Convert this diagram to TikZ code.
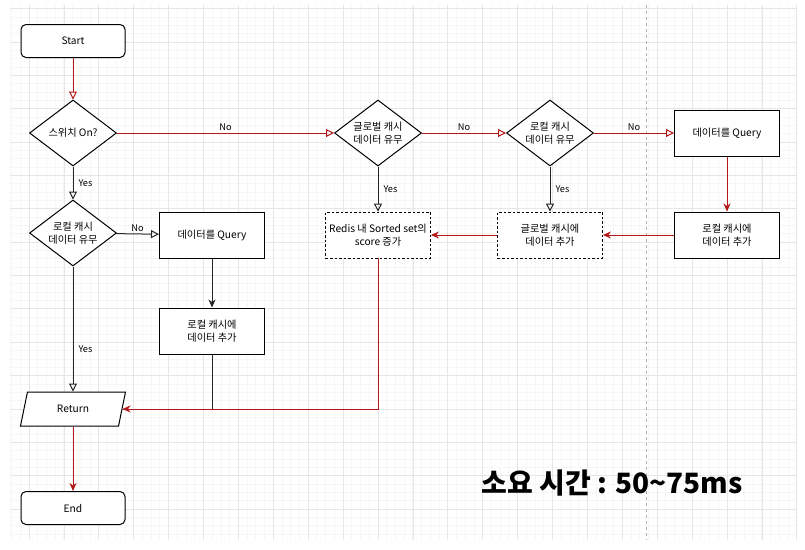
\documentclass[tikz,border=0pt]{standalone}
\usepackage{fontspec}
\newfontfamily\kr{Noto Sans CJK KR}
\usetikzlibrary{shapes.geometric}
\usetikzlibrary{arrows.meta}
\usetikzlibrary{positioning}
\definecolor{flowred}{RGB}{180,24,24}
\definecolor{gridmajor}{RGB}{230,230,230}
\definecolor{gridminor}{RGB}{246,246,246}

\begin{document}
\begin{tikzpicture}[x=1pt,y=-1pt,font=\kr\fontsize{10.2}{12.5}\selectfont]
\tikzset{termbox/.style={rectangle,rounded corners=5pt,draw,line width=1pt,minimum width=104pt,minimum height=33pt,fill=white},
procbox/.style={rectangle,draw,line width=1pt,minimum width=105pt,minimum height=46pt,align=center,fill=white},
dashbox/.style={procbox,line width=0.8pt,dash pattern=on 2.5pt off 2pt},
decision/.style={diamond,draw,line width=1pt,minimum width=87pt,minimum height=66pt,inner sep=0pt,aspect=1.35,align=center,fill=white},
iobox/.style={trapezium,trapezium left angle=64,trapezium right angle=116,trapezium stretches body,draw,line width=1pt,minimum width=105pt,minimum height=34pt,fill=white},
lbl/.style={font=\kr\fontsize{9.2}{11}\selectfont,inner sep=2pt,text=black},
blackline/.style={line width=1pt,draw=black!85},
redline/.style={line width=1pt,draw=flowred},
openarr/.style={-{Triangle[open,length=8pt,width=8pt]}},
fillarr/.style={-{Stealth[length=8pt,width=7pt,inset=2.5pt]}}}
\fill[white] (0,0) rectangle (805,549);
\useasboundingbox (0,0) rectangle (805,549);
\foreach \i in {0,...,90} \draw[gridminor,line width=0.8pt] ({11.5+8.725*\i},5) -- ({11.5+8.725*\i},540);
\foreach \i in {0,...,63} \draw[gridminor,line width=0.8pt] (10,{8.64+8.34*\i}) -- (797,{8.64+8.34*\i});
\foreach \i in {0,...,22} \draw[gridmajor,line width=0.8pt] ({29+34.9*\i},5) -- ({29+34.9*\i},540);
\foreach \i in {0,...,15} \draw[gridmajor,line width=0.8pt] (10,{8.64+33.36*\i}) -- (797,{8.64+33.36*\i});
\draw[black!30,line width=0.8pt,dash pattern=on 3pt off 3pt] (646,5) -- (646,540);
\node[termbox](startbox) at (73,41){Start};
\node[decision](switchchk) at (73,133){스위치 On?};
\node[decision](localchk) at (73,233){로컬 캐시\\데이터 유무};
\node[procbox](localquery) at (212,235){데이터를 Query};
\node[procbox](localadd) at (212,331){로컬 캐시에\\데이터 추가};
\node[iobox](retbox) at (73,409){Return};
\node[termbox](endbox) at (73,508){End};
\node[decision](globalchk) at (378,133){글로벌 캐시\\데이터 유무};
\node[decision](localchktwo) at (550,133){로컬 캐시\\데이터 유무};
\node[procbox](dbquery) at (727,133){데이터를 Query};
\node[procbox](localaddtwo) at (727,235){로컬 캐시에\\데이터 추가};
\node[dashbox](globaladd) at (550,235){글로벌 캐시에\\데이터 추가};
\node[dashbox](redisscore) at (378,235){Redis 내 Sorted set의\\score 증가};
\draw[redline,openarr](startbox) -- (switchchk);
\draw[redline,openarr](switchchk) -- node[lbl,above]{No} (globalchk);
\draw[blackline,openarr](switchchk) -- node[lbl,right,xshift=3pt]{Yes} (localchk);
\draw[blackline,openarr](localchk) -- node[lbl,above]{No} (localquery);
\draw[blackline,openarr](localchk) -- node[lbl,right,xshift=3pt,pos=0.66]{Yes} (retbox);
\draw[blackline,fillarr](localquery) -- (localadd);
\draw[blackline](localadd) |- (retbox.east);
\draw[redline,openarr](globalchk) -- node[lbl,above]{No} (localchktwo);
\draw[blackline,openarr](globalchk) -- node[lbl,right,xshift=3pt]{Yes} (redisscore);
\draw[redline,openarr](localchktwo) -- node[lbl,above]{No} (dbquery);
\draw[blackline,openarr](localchktwo) -- node[lbl,right,xshift=3pt]{Yes} (globaladd);
\draw[redline,fillarr](dbquery) -- (localaddtwo);
\draw[redline,fillarr](localaddtwo) -- (globaladd);
\draw[redline,fillarr](globaladd) -- (redisscore);
\draw[redline,fillarr](redisscore) |- (retbox.east);
\draw[redline,fillarr](retbox) -- (endbox);
\node[font=\kr\bfseries\fontsize{28}{33}\selectfont](elapsed) at (612,483){소요 시간 : 50\textasciitilde75ms};
\end{tikzpicture}
\end{document}
